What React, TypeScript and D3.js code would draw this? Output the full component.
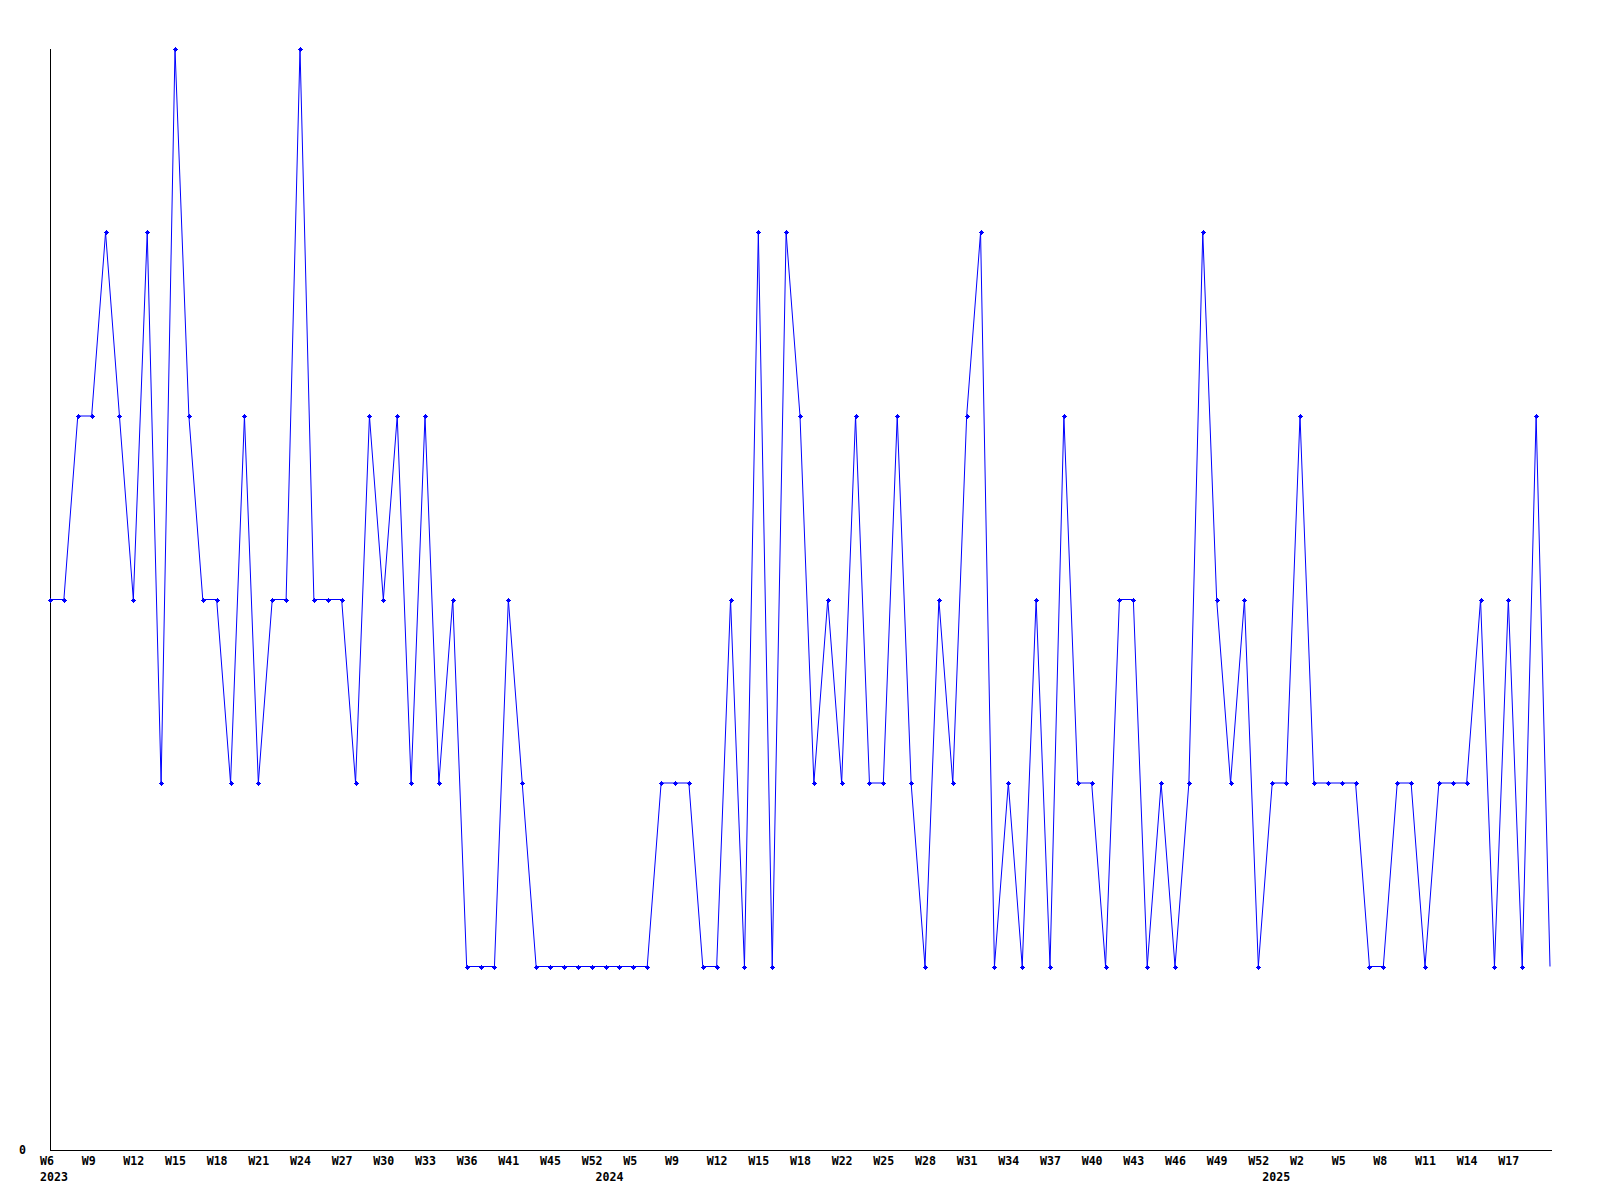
import React from "react";
import * as d3 from "d3";

// Week categories (year-week), one per data point
const weeks2023: number[] = [
  6, 7, 8, 9, 10, 11, 12, 13, 14, 15, 16, 17, 18, 19, 20, 21, 22, 23, 24, 25, 26,
  27, 28, 29, 30, 31, 32, 33, 34, 35, 36, 38, 39, 41, 42, 44, 45, 47, 50, 52,
];
const weeks2024: number[] = [
  0, 2, 5, 6, 8, 9, 10, 11, 12, 13, 14, 15, 16, 17, 18, 19, 21, 22, 23, 24, 25, 26,
  27, 28, 29, 30, 31, 32, 33, 34, 35, 36, 37, 38, 39, 40, 41, 42, 43, 44, 45, 46,
  47, 48, 49, 50, 51, 52,
];
const weeks2025: number[] = [
  0, 1, 2, 3, 4, 5, 6, 7, 8, 9, 10, 11, 12, 13, 14, 15, 16, 17, 18, 19, 20,
];

// Series values (one per week)
const values: number[] = [
  3, 3, 4, 4, 5, 4, 3, 5, 2, 6, 4, 3, 3, 2, 4, 2, 3, 3, 6,
  3, 3, 3, 2, 4, 3, 4, 2, 4, 2, 3, 1, 1, 1, 3, 2, 1, 1,
  1, 1, 1, 1, 1, 1, 1, 2, 2, 2, 1, 1, 3, 1, 5, 1, 5, 4,
  2, 3, 2, 4, 2, 2, 4, 2, 1, 3, 2, 4, 5, 1, 2, 1, 3, 1,
  4, 2, 2, 1, 3, 3, 1, 2, 1, 2, 5, 3, 2, 3, 1, 2, 2, 4,
  2, 2, 2, 2, 1, 1, 2, 2, 1, 2, 2, 2, 3, 1, 3, 1, 4, 1,
];

const yTicks: number[] = [0];
const yMax = 6;
const labelSkip = 3;

type Pt = { year: number; week: number; value: number; idx: number };

const categories: { year: number; week: number }[] = [
  ...weeks2023.map((w) => ({ year: 2023, week: w })),
  ...weeks2024.map((w) => ({ year: 2024, week: w })),
  ...weeks2025.map((w) => ({ year: 2025, week: w })),
];

const data: Pt[] = categories.map((c, i) => ({ ...c, value: values[i], idx: i }));

export default function App() {
  const W = 1600;
  const H = 1200;
  const left = 50;
  const right = 1550;
  const top = 49;
  const bottom = 1150;

  const x = d3
    .scalePoint<number>()
    .domain(data.map((d) => d.idx))
    .range([left, right]);
  const y = d3.scaleLinear().domain([0, yMax]).range([bottom, top]);

  const line = d3
    .line<Pt>()
    .x((d) => x(d.idx)!)
    .y((d) => y(d.value));

  const font = "'DejaVu Sans Mono', 'Liberation Mono', monospace";
  const fs = 11.6;
  const yearStarts = data.filter((d, i) => i === 0 || data[i - 1].year !== d.year);

  const markerPath = (cx: number, cy: number) =>
    `M${cx - 2.5},${cy}H${cx + 2.5}M${cx},${cy - 2.5}V${cy + 2.5}`;

  return (
    <svg
      width={W}
      height={H}
      style={{ position: "absolute", left: 0, top: 0, background: "#fff" }}
    >
      <rect x={0} y={0} width={W} height={H} fill="#fff" />
      {/* axes */}
      <line x1={left + 0.5} y1={top} x2={left + 0.5} y2={bottom + 0.5} stroke="#000" strokeWidth={1} />
      <line x1={left} y1={bottom + 0.5} x2={right + 2} y2={bottom + 0.5} stroke="#000" strokeWidth={1} />
      {/* y tick labels */}
      {yTicks.map((t) => (
        <text
          key={t}
          x={22.5}
          y={y(t) + 4}
          textAnchor="middle"
          fontFamily={font}
          fontWeight="bold"
          fontSize={fs}
          fill="#000"
        >
          {t}
        </text>
      ))}
      {/* x tick labels */}
      {data
        .filter((d) => d.idx % labelSkip === 0 && d.idx < data.length - 1)
        .map((d) => (
          <text
            key={`w${d.idx}`}
            x={x(d.idx)! - 10}
            y={1165}
            textAnchor="start"
            fontFamily={font}
            fontWeight="bold"
            fontSize={fs}
            fill="#000"
          >
            {`W${d.week}`}
          </text>
        ))}
      {yearStarts.map((d) => (
        <text
          key={`y${d.year}`}
          x={x(d.idx)! - 10}
          y={1181}
          textAnchor="start"
          fontFamily={font}
          fontWeight="bold"
          fontSize={fs}
          fill="#000"
        >
          {d.year}
        </text>
      ))}
      {/* series line */}
      <path d={line(data)!} fill="none" stroke="#0000ff" strokeWidth={1} />
      {/* markers */}
      {data.slice(0, data.length - 1).map((d) => {
        const cx = Math.round(x(d.idx)!) + 0.5;
        const cy = Math.round(y(d.value)) + 0.5;
        return (
          <g key={`m${d.idx}`}>
            <rect x={cx - 1.5} y={cy - 1.5} width={3} height={3} fill="#0000ff" />
            <path d={markerPath(cx, cy)} stroke="#0000ff" strokeWidth={1} />
          </g>
        );
      })}
    </svg>
  );
}
